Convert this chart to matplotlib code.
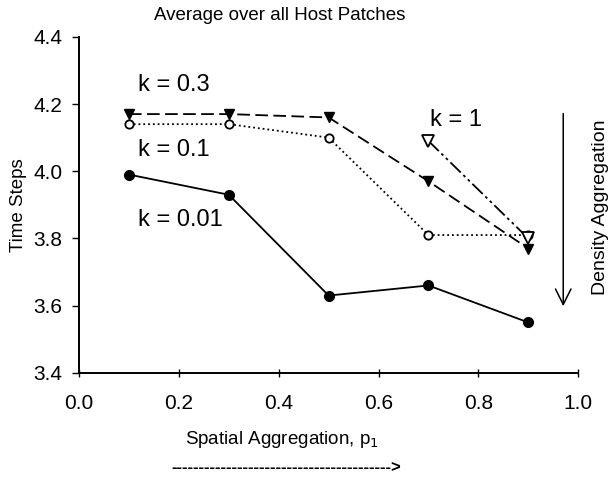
import matplotlib
matplotlib.use("Agg")
import matplotlib.pyplot as plt

plt.rcParams['font.family'] = ['Liberation Sans', 'DejaVu Sans']

p1 = [0.1, 0.3, 0.5, 0.7, 0.9]
k001 = [3.99, 3.93, 3.63, 3.66, 3.55]
k01 = [4.14, 4.14, 4.10, 3.81, 3.81]
k03 = [4.17, 4.17, 4.16, 3.97, 3.77]
p1_k1 = [0.7, 0.9]
k1 = [4.09, 3.80]

xticks = [0.0, 0.2, 0.4, 0.6, 0.8, 1.0]
yticks = [3.4, 3.6, 3.8, 4.0, 4.2, 4.4]

fig = plt.figure(figsize=(6.08, 4.78), dpi=100)
ax = fig.add_axes([0.130, 0.220, 0.821, 0.703])

ax.plot(p1, k001, '-', color='black', lw=1.3, marker='o', ms=7, mfc='black')
ax.plot(p1, k01, ':', color='black', lw=1.3, marker='o', ms=6, mfc='white', mew=1.3)
ax.plot(p1, k03, '--', color='black', lw=1.3, dashes=(7, 3), marker='v', ms=7, mfc='black')
ax.plot(p1_k1, k1, color='black', lw=1.3, dashes=(8, 2, 1.5, 2, 1.5, 2),
        marker='v', ms=8, mfc='white', mew=1.3)

ax.set_xlim(0, 1.0)
ax.set_ylim(3.4, 4.4)
ax.set_xticks(xticks)
ax.set_yticks(yticks)
ax.set_xticklabels([f'{v:.1f}' for v in xticks])
ax.set_yticklabels([f'{v:.1f}' for v in yticks])
ax.tick_params(labelsize=15, length=5, width=1, direction='out', pad=7)
ax.tick_params(axis='x', direction='inout', length=6, pad=12)
for s in ['top', 'right']:
    ax.spines[s].set_visible(False)
for s in ['left', 'bottom']:
    ax.spines[s].set_linewidth(1.4)

fig.text(0.46, 0.968, 'Average over all Host Patches', fontsize=13.5,
         ha='center', va='center')
fig.text(0.03, 0.57, 'Time Steps', fontsize=13.5, rotation=90,
         ha='center', va='center')
fig.text(0.464, 0.08, 'Spatial Aggregation, p$_1$', fontsize=13.5,
         ha='center', va='center')

ax.text(0.118, 4.257, 'k = 0.3', fontsize=17, ha='left', va='center')
ax.text(0.118, 4.064, 'k = 0.1', fontsize=17, ha='left', va='center')
ax.text(0.118, 3.855, 'k = 0.01', fontsize=17, ha='left', va='center')
ax.text(0.703, 4.153, 'k = 1', fontsize=17, ha='left', va='center')

ax.annotate('', xy=(0.97, 3.59), xytext=(0.97, 4.18),
            arrowprops=dict(arrowstyle='->', lw=1.1, color='black',
                            mutation_scale=28))
fig.text(0.988, 0.567, 'Density Aggregation', rotation=90, fontsize=14,
         ha='center', va='center')

fig.text(0.471, 0.021, '-' * 40 + '>', fontsize=12, fontweight='bold',
         ha='center', va='center')

fig.savefig('out.png', dpi=100)
